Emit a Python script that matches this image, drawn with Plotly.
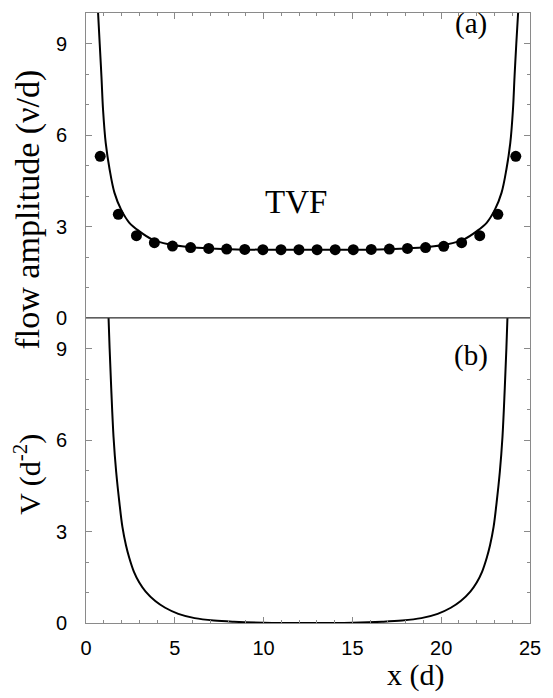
import plotly.graph_objects as go
from plotly.subplots import make_subplots

# ---- data ----
dot_x = [0.80, 1.82, 2.84, 3.85, 4.87, 5.89, 6.91, 7.92, 8.94, 9.96, 10.98, 11.99,
         13.01, 14.03, 15.05, 16.06, 17.08, 18.10, 19.12, 20.14, 21.15, 22.17, 23.19, 24.20]
dot_y = [5.30, 3.40, 2.70, 2.47, 2.36, 2.31, 2.28, 2.26, 2.25, 2.24, 2.24, 2.24,
         2.24, 2.24, 2.24, 2.25, 2.26, 2.28, 2.31, 2.35, 2.47, 2.70, 3.40, 5.30]

amp_x = [0.68, 0.77, 0.87, 0.96, 1.11, 1.33, 1.60, 1.97, 2.43, 2.99, 3.72, 4.65, 5.75,
         7.0, 8.5, 10.0, 12.5, 15.0, 16.5, 18.0, 19.25, 20.35, 21.28, 22.01, 22.57,
         23.03, 23.40, 23.67, 23.89, 24.04, 24.13, 24.23, 24.33]
amp_y = [10.0, 9.01, 7.92, 6.83, 5.74, 4.87, 4.11, 3.56, 3.13, 2.85, 2.58, 2.42, 2.33,
         2.28, 2.25, 2.24, 2.24, 2.24, 2.25, 2.28, 2.33, 2.42, 2.58, 2.85, 3.13,
         3.56, 4.11, 4.87, 5.74, 6.83, 7.92, 9.01, 10.0]

pot_x = [1.27, 1.33, 1.42, 1.55, 1.70, 1.88, 2.05, 2.25, 2.43, 2.70, 3.00, 3.36, 3.90,
         4.46, 5.20, 6.12, 7.20, 8.33, 10.0, 12.5,
         15.0, 16.67, 17.8, 18.88, 19.8, 20.54, 21.1, 21.64, 22.0, 22.3, 22.57, 22.75,
         22.95, 23.12, 23.30, 23.45, 23.58, 23.67, 23.73]
pot_v = [10.0, 9.0, 7.7, 6.1, 4.95, 3.95, 3.15, 2.55, 2.15, 1.68, 1.33, 1.03, 0.72,
         0.50, 0.30, 0.16, 0.08, 0.04, 0.01, 0.0,
         0.01, 0.04, 0.08, 0.16, 0.30, 0.50, 0.72, 1.03, 1.33, 1.68, 2.15, 2.55,
         3.15, 3.95, 4.95, 6.1, 7.7, 9.0, 10.0]

y_ticks = [0, 3, 6, 9]
x_ticks = [0, 5, 10, 15, 20, 25]

# ---- figure ----
fig = make_subplots(rows=2, cols=1, shared_xaxes=False, vertical_spacing=0)

fig.add_trace(go.Scatter(x=amp_x, y=amp_y, mode="lines", line_shape="spline",
                         line=dict(color="black", width=2), showlegend=False),
              row=1, col=1)
fig.add_trace(go.Scatter(x=dot_x, y=dot_y, mode="markers",
                         marker=dict(color="black", size=11), showlegend=False),
              row=1, col=1)
fig.add_trace(go.Scatter(x=pot_x, y=pot_v, mode="lines", line_shape="spline",
                         line=dict(color="black", width=2), showlegend=False),
              row=2, col=1)

frame = "#8a8a8a"
tickfont = dict(family="Liberation Sans, Arial, sans-serif", size=20, color="black")
serif = "Liberation Serif, Times New Roman, serif"

common_x = dict(range=[0, 25], tickvals=x_ticks, showline=True, linecolor=frame,
                linewidth=1, ticks="inside", ticklen=6, tickcolor=frame,
                minor=dict(dtick=1, ticks="inside", ticklen=3, tickcolor=frame),
                showgrid=False, zeroline=False, tickfont=tickfont)
fig.update_xaxes(**common_x, side="top", showticklabels=False, mirror=False,
                 row=1, col=1)
fig.update_xaxes(**common_x, mirror=True, ticklabelstandoff=7, row=2, col=1)

common_y = dict(range=[0, 10], tickvals=y_ticks, showline=True, linecolor=frame,
                linewidth=1, mirror="allticks", ticks="inside", ticklen=6,
                tickcolor=frame,
                minor=dict(dtick=1, ticks="inside", ticklen=3, tickcolor=frame),
                showgrid=False, zeroline=False, tickfont=tickfont,
                ticklabelstandoff=14)
fig.update_yaxes(**common_y, domain=[0.5, 1.0], row=1, col=1)
fig.update_yaxes(**common_y, domain=[0.0, 0.5], row=2, col=1)

# divider between panels
fig.add_shape(type="line", xref="paper", yref="paper", x0=0, x1=1, y0=0.5, y1=0.5,
              line=dict(color="#333333", width=1.2))

ann = [
    dict(text="flow amplitude (ν/d)", x=-0.1305, y=0.678, textangle=-90,
         font=dict(family=serif, size=34, color="black")),
    dict(text="V (d<sup>-2</sup>)", x=-0.1305, y=0.243, textangle=-90,
         font=dict(family=serif, size=30, color="black")),
    dict(text="x (d)", x=0.742, y=-0.085, font=dict(family=serif, size=30, color="black")),
    dict(text="(a)", x=0.867, y=0.982, font=dict(family=serif, size=29, color="black")),
    dict(text="(b)", x=0.867, y=0.439, font=dict(family=serif, size=29, color="black")),
]
for a in ann:
    fig.add_annotation(xref="paper", yref="paper", showarrow=False,
                       xanchor="center", yanchor="middle", **a)

fig.add_annotation(text="TVF", xref="x", yref="y", x=11.85, y=3.79, showarrow=False,
                   xanchor="center", yanchor="middle",
                   font=dict(family=serif, size=33, color="black"))

fig.update_layout(width=553, height=698, margin=dict(l=86, r=15, t=13, b=75),
                  plot_bgcolor="white", paper_bgcolor="white")

fig.write_html("out.html")
